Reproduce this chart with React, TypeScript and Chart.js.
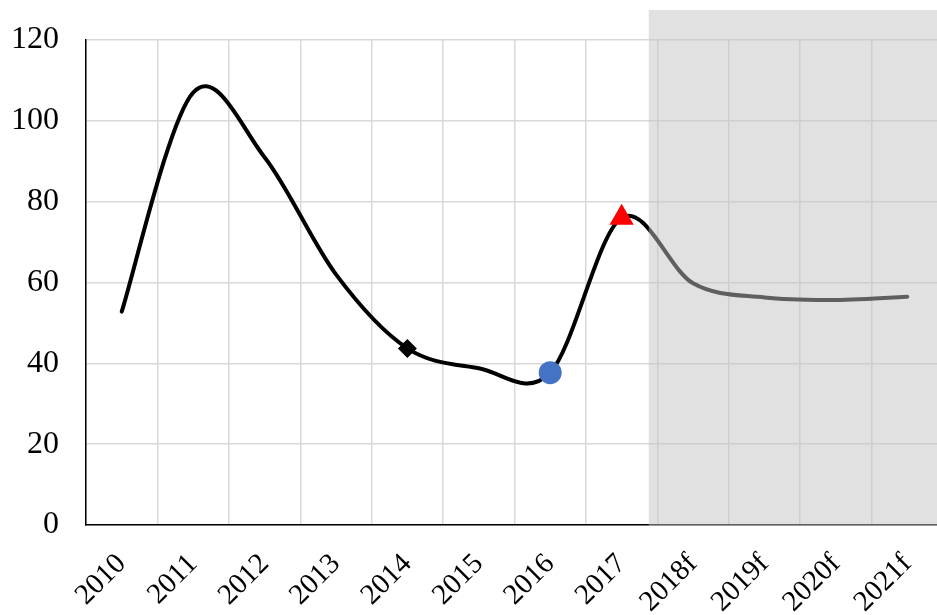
import React, { useEffect, useRef } from "react";
import { Chart, registerables } from "chart.js";

Chart.register(...registerables);

const categories = ["2010", "2011", "2012", "2013", "2014", "2015", "2016", "2017", "2018f", "2019f", "2020f", "2021f"];
const values = [52.8, 107, 91, 62, 43.7, 38.8, 37.7, 76, 59.8, 56.3, 55.7, 56.5];
const yTicks = [0, 20, 40, 60, 80, 100, 120];
const forecastStart = "2018f";

// marker styling per point index
const markerStyles: (string | false)[] = [false, false, false, false, "rectRot", false, "circle", "triangle", false, false, false, false];
const markerRadii = [0, 0, 0, 0, 9.5, 0, 11.5, 14, 0, 0, 0, 0];
const markerColors = ["#000", "#000", "#000", "#000", "#000", "#000", "#4472C4", "#FF0000", "#000", "#000", "#000", "#000"];

const FONT = '"Liberation Serif", "Times New Roman", serif';

// Spreadsheet-style smoothing: uniform Catmull-Rom control points
const smoothPlugin = {
  id: "catmullSmooth",
  beforeDatasetsDraw(chart: any) {
    chart.data.datasets.forEach((_: any, di: number) => {
      const meta = chart.getDatasetMeta(di);
      const line = meta.dataset;
      const pts = meta.data;
      if (!line || !pts || !pts.length) return;
      line.updateControlPoints(chart.chartArea, "x");
      for (let i = 0; i < pts.length; i++) {
        const p = pts[i];
        const prev = pts[i - 1] || p;
        const next = pts[i + 1] || p;
        const dx = (next.x - prev.x) / 6;
        const dy = (next.y - prev.y) / 6;
        p.cp1x = p.x - dx;
        p.cp1y = p.y - dy;
        p.cp2x = p.x + dx;
        p.cp2y = p.y + dy;
      }
    });
  },
};

const shadePlugin = {
  id: "forecastShade",
  afterDatasetsDraw(chart: any) {
    const { ctx, chartArea, scales } = chart;
    const xs = scales.x;
    const idx = categories.indexOf(forecastStart);
    const step = xs.getPixelForValue(1) - xs.getPixelForValue(0);
    const x0 = xs.getPixelForValue(idx) - step * 0.62;
    const top = chartArea.top - 30;
    ctx.save();
    ctx.fillStyle = "rgba(194,194,194,0.49)";
    ctx.fillRect(x0, top, chart.width - x0, chartArea.bottom + 1 - top);
    ctx.restore();
  },
};

export default function App() {
  const ref = useRef<HTMLCanvasElement | null>(null);
  useEffect(() => {
    if (!ref.current) return;
    const chart = new Chart(ref.current, {
      type: "line",
      data: {
        labels: categories,
        datasets: [
          {
            data: values,
            borderColor: "#000",
            borderWidth: 4,
            borderCapStyle: "round",
            tension: 0.4,
            fill: false,
            pointStyle: markerStyles as any,
            pointRadius: markerRadii,
            pointBackgroundColor: markerColors,
            pointBorderColor: markerColors,
            pointBorderWidth: 0,
            pointHoverRadius: markerRadii,
          },
        ],
      },
      options: {
        responsive: false,
        animation: false,
        events: [],
        layout: { padding: { left: 0, top: 40, right: 17, bottom: 0 } },
        plugins: { legend: { display: false }, tooltip: { enabled: false } },
        scales: {
          x: {
            type: "category",
            offset: true,
            grid: { offset: true, color: "#d9d9d9", lineWidth: 1.5, drawTicks: false },
            border: { color: "#000", width: 1.5 },
            ticks: {
              minRotation: 45,
              maxRotation: 45,
              autoSkip: false,
              padding: 22,
              color: "#000",
              font: { family: FONT, size: 29 },
            },
            afterFit: (s: any) => {
              s.height = 90;
            },
          },
          y: {
            min: 0,
            max: 120,
            afterBuildTicks: (s: any) => {
              s.ticks = yTicks.map((v) => ({ value: v }));
            },
            grid: { color: "#d9d9d9", lineWidth: 1.5, drawTicks: false },
            border: { color: "#000", width: 1.5 },
            ticks: {
              padding: 27,
              color: "#000",
              font: { family: FONT, size: 32 },
            },
            afterFit: (s: any) => {
              s.width = 86;
              s.paddingTop = 0;
              s.paddingBottom = 0;
            },
          },
        },
      },
      plugins: [smoothPlugin, shadePlugin],
    });
    return () => chart.destroy();
  }, []);
  return (
    <div style={{ position: "fixed", left: 0, top: 0, width: 937, height: 615, overflow: "hidden", background: "#fff" }}>
      <canvas ref={ref} width={960} height={615} style={{ display: "block" }} />
    </div>
  );
}
